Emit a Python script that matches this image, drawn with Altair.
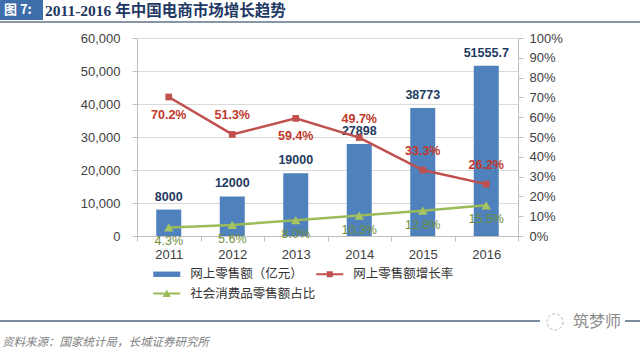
import altair as alt
import pandas as pd

years = ["2011", "2012", "2013", "2014", "2015", "2016"]
sales = [8000, 12000, 19000, 27898, 38773, 51555.7]
sales_labels = ["8000", "12000", "19000", "27898", "38773", "51555.7"]
growth = [0.702, 0.513, 0.594, 0.497, 0.333, 0.262]
growth_pos = ["below", "above", "below", "above", "above", "above"]
share = [0.043, 0.056, 0.080, 0.103, 0.128, 0.155]
# legend order is column-major in a 2-column grid: bars, share (col 1), growth (col 2)
series = ["网上零售额（亿元）", "社会消费品零售额占比", "网上零售额增长率"]
colors = ["#4F81BD", "#9BBB59", "#C0504D"]
left_ticks = [0, 10000, 20000, 30000, 40000, 50000, 60000]
right_ticks = [0, 0.1, 0.2, 0.3, 0.4, 0.5, 0.6, 0.7, 0.8, 0.9, 1.0]
title_tag = "图 7:"
title_text = "2011-2016 年中国电商市场增长趋势"
source_text = "资料来源：国家统计局，长城证券研究所"
watermark = "筑梦师"

FONT = "Liberation Sans"
CJK = "Noto Sans CJK SC"

bar_df = pd.DataFrame({"year": years, "sales": sales, "label": sales_labels})
red_df = pd.DataFrame({"year": years, "pct": growth, "pos": growth_pos})
green_df = pd.DataFrame({"year": years, "pct": share})
legend_df = pd.DataFrame({"series": series})
one = pd.DataFrame({"a": [0]})

x_enc = alt.X(
    "year:N", sort=years,
    scale=alt.Scale(paddingInner=0, paddingOuter=0),
    axis=alt.Axis(title=None, labelAngle=0, tickBand="extent", domainColor="#BFBFBF",
                  tickColor="#BFBFBF", tickSize=5, labelPadding=7, labelFontSize=13,
                  labelFont=FONT, labelColor="#404040"),
)
y_left = alt.Y(
    "sales:Q", scale=alt.Scale(domain=[0, 60000]),
    axis=alt.Axis(values=left_ticks, format=",.0f", title=None, grid=True, gridColor="#D9D9D9",
                  domainColor="#BFBFBF", tickColor="#BFBFBF", tickSize=5, labelPadding=12,
                  labelFontSize=13, labelFont=FONT, labelColor="#404040"),
)
y_right = alt.Y(
    "pct:Q", scale=alt.Scale(domain=[0, 1]),
    axis=alt.Axis(orient="right", values=right_ticks, format=".0%", title=None, grid=False,
                  domainColor="#BFBFBF", tickColor="#BFBFBF", tickSize=5, labelPadding=6,
                  labelFontSize=13, labelFont=FONT, labelColor="#404040"),
)

bars = alt.Chart(bar_df).mark_bar(size=25, color="#4F81BD").encode(x=x_enc, y=y_left)
bar_text = alt.Chart(bar_df).mark_text(dy=-13, fontSize=12.5, fontWeight="bold", font=FONT,
                                       color="#1F3A5F", baseline="middle").encode(
    x=x_enc, y=y_left, text="label:N")
bars_group = alt.layer(bars, bar_text)

green_line = alt.Chart(green_df).mark_line(color="#9BBB59", strokeWidth=2.5).encode(x=x_enc, y=y_right)
green_pts = alt.Chart(green_df).mark_point(shape="triangle-up", filled=True, size=90, opacity=1,
                                           color="#A6C463").encode(x=x_enc, y=y_right)
green_text = alt.Chart(green_df).mark_text(dy=14, fontSize=12.5, font=FONT, color="#6E8F3A",
                                           baseline="middle").encode(
    x=x_enc, y=y_right, text=alt.Text("pct:Q", format=".1%"))
red_line = alt.Chart(red_df).mark_line(color="#C0504D", strokeWidth=2.5).encode(x=x_enc, y=y_right)
red_pts = alt.Chart(red_df).mark_point(shape="square", filled=True, size=45, opacity=1,
                                       color="#C0504D").encode(x=x_enc, y=y_right)
red_above = alt.Chart(red_df).transform_filter(alt.datum.pos == "above").mark_text(
    dy=-19, fontSize=12.5, fontWeight="bold", font=FONT, color="#C0392B", baseline="middle").encode(
    x=x_enc, y=y_right, text=alt.Text("pct:Q", format=".1%"))
red_below = alt.Chart(red_df).transform_filter(alt.datum.pos == "below").mark_text(
    dy=18, fontSize=12.5, fontWeight="bold", font=FONT, color="#C0392B", baseline="middle").encode(
    x=x_enc, y=y_right, text=alt.Text("pct:Q", format=".1%"))

legend_props = dict(
    orient="none", legendX=16, legendY=229, columns=2, title=None,
    labelFont=CJK, labelFontSize=12.5, labelColor="#333333", labelLimit=300,
    symbolSize=182.25, symbolOffset=6.75, labelOffset=16.5, rowPadding=5.5,
    columnPadding=0, symbolStrokeWidth=0, symbolOpacity=1,
)
shape_paths = [
    "M-2,-0.4H2V0.4H-2Z",
    "M-2,-0.15H2V0.15H-2Z M0,-0.6L0.6,0.5H-0.6Z",
    "M-2,-0.15H2V0.15H-2Z M-0.45,-0.45H0.45V0.45H-0.45Z",
]
legend_layer = alt.Chart(legend_df).transform_filter("false").mark_point(filled=True).encode(
    color=alt.Color("series:N", scale=alt.Scale(domain=series, range=colors),
                    legend=alt.Legend(**legend_props)),
    shape=alt.Shape("series:N", scale=alt.Scale(domain=series, range=shape_paths),
                    legend=alt.Legend(**legend_props)),
)

lines_group = alt.layer(green_line, red_line, green_pts, red_pts, green_text, red_above, red_below,
                        legend_layer)

# decorations (title bar, source, watermark) in pixel space relative to plot origin
tag_box = alt.Chart(one).mark_rect(color="#3D6DAA").encode(
    x=alt.value(-137), x2=alt.value(-94), y=alt.value(-38), y2=alt.value(-18))
tag_text = alt.Chart(pd.DataFrame({"t": [title_tag]})).mark_text(
    align="left", baseline="middle", font=CJK, fontSize=13, fontWeight="bold", color="white").encode(
    x=alt.value(-133), y=alt.value(-28), text="t:N")
title_mark = alt.Chart(pd.DataFrame({"t": [title_text]})).mark_text(
    align="left", baseline="middle", font="Liberation Serif, Noto Sans CJK SC", fontSize=15.5,
    fontWeight="bold", color="#1F3864").encode(
    x=alt.value(-92), y=alt.value(-27), text="t:N")
title_rule = alt.Chart(one).mark_rule(color="#5E7389", strokeWidth=1.5).encode(
    x=alt.value(-137), x2=alt.value(503), y=alt.value(-16))
bottom_rule = alt.Chart(one).mark_rule(color="#7A8C9E", strokeWidth=2).encode(
    x=alt.value(-137), x2=alt.value(503), y=alt.value(283))
source_mark = alt.Chart(pd.DataFrame({"t": [source_text]})).mark_text(
    align="left", baseline="middle", font=CJK, fontSize=11.5, fontStyle="italic", color="#7F7F7F").encode(
    x=alt.value(-135), y=alt.value(305), text="t:N")
wm_box = alt.Chart(one).mark_rect(color="white").encode(
    x=alt.value(403), x2=alt.value(488), y=alt.value(274), y2=alt.value(294))
wm_icon = alt.Chart(one).mark_point(shape="circle", size=260, filled=False, color="#9A9A9A",
                                    strokeWidth=1, strokeDash=[3, 2]).encode(
    x=alt.value(418), y=alt.value(284))
wm_text = alt.Chart(pd.DataFrame({"t": [watermark]})).mark_text(
    align="left", baseline="middle", font=CJK, fontSize=16, color="#8A8A8A").encode(
    x=alt.value(436), y=alt.value(284), text="t:N")

chart = alt.layer(
    bars_group, lines_group,
    tag_box, tag_text, title_mark, title_rule, bottom_rule, source_mark, wm_box, wm_icon, wm_text,
).resolve_scale(y="independent").properties(
    width=381, height=198,
    autosize=alt.AutoSizeParams(type="none"),
    padding={"left": 137, "top": 38, "right": 122, "bottom": 118},
    background="white",
).configure_view(stroke=None)

chart.save("out.html", embed_options={"renderer": "svg", "actions": False})
